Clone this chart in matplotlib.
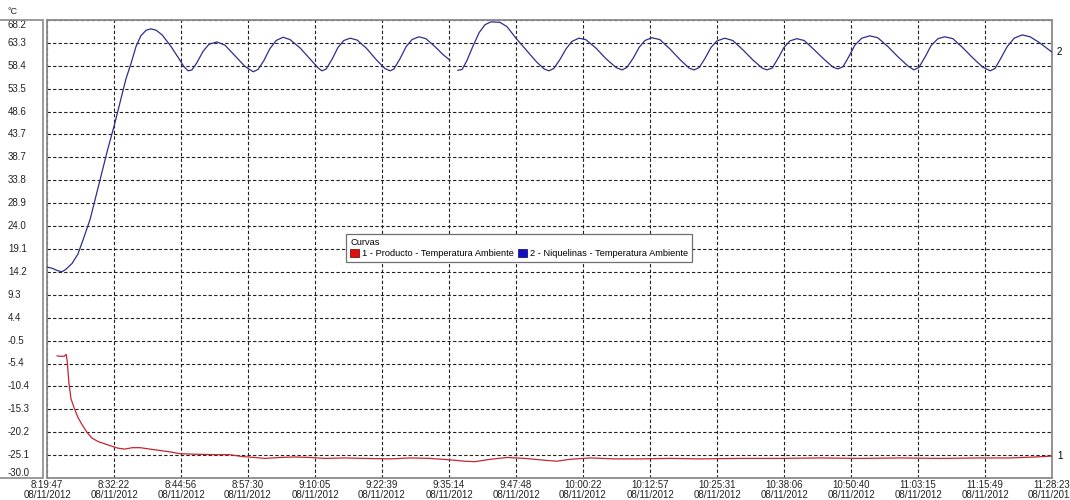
import numpy as np
import matplotlib
matplotlib.use("Agg")
import matplotlib.pyplot as plt
from matplotlib.patches import Patch, Rectangle
from matplotlib.transforms import blended_transform_factory

plt.rcParams["font.family"] = ["Liberation Sans", "DejaVu Sans"]

# --- data -------------------------------------------------------------
date_label = "08/11/2012"
x_tick_times = ["8:19:47", "8:32:22", "8:44:56", "8:57:30", "9:10:05",
                "9:22:39", "9:35:14", "9:47:48", "10:00:22", "10:12:57",
                "10:25:31", "10:38:06", "10:50:40", "11:03:15", "11:15:49",
                "11:28:23"]
y_tick_labels = ["-30.0", "-25.1", "-20.2", "-15.3", "-10.4", "-5.4", "-0.5",
                 "4.4", "9.3", "14.2", "19.1", "24.0", "28.9", "33.8", "38.7",
                 "43.7", "48.6", "53.5", "58.4", "63.3", "68.2"]

# minutes elapsed since 8:19:47
niquelinas_min = [0.0, 0.9, 1.9, 2.8, 3.6, 4.7, 5.8, 6.9, 8.1, 9.2, 10.3, 11.4,
                  12.6, 13.7, 14.8, 15.8, 16.7, 17.6, 18.6, 19.5, 20.5, 21.6,
                  23.1, 24.6, 25.7, 26.5, 27.2, 28.1, 29.3, 30.4, 31.9, 33.4,
                  35.3, 37.2, 38.7, 39.6, 40.7, 41.8, 43.0, 44.3, 45.6, 47.5,
                  49.4, 50.9, 51.6, 52.4, 53.5, 54.6, 55.7, 56.9, 58.2, 59.9,
                  61.7, 63.4, 64.4, 65.1, 66.2, 67.4, 68.5, 69.8, 71.1, 72.8,
                  74.3, 75.6, 76.4, 77.1, 77.9, 78.8, 79.9, 81.1, 82.2, 83.3,
                  85.0, 86.3, 88.0, 89.9, 91.8, 93.3, 94.2, 95.1, 96.3, 97.4,
                  98.5, 99.8, 101.1, 103.0, 104.9, 106.8, 107.9, 108.8, 110.0,
                  111.1, 112.2, 113.5, 115.0, 116.9, 118.8, 120.5, 121.4, 122.4,
                  123.5, 124.6, 125.7, 127.2, 128.7, 130.6, 132.5, 134.2, 135.1,
                  136.1, 137.2, 138.3, 139.4, 140.7, 142.1, 143.9, 145.8, 147.5,
                  148.4, 149.4, 150.5, 151.6, 152.9, 154.4, 155.9, 157.8, 159.7,
                  161.6, 162.7, 163.6, 164.8, 165.9, 167.2, 168.5, 170.0, 171.9,
                  173.8, 175.6, 177.0, 177.9, 179.0, 180.2, 181.5, 183.0, 184.5,
                  186.3, 188.6]
niquelinas_c = [15.2, 15.0, 14.5, 14.2, 14.8, 16.0, 18.0, 21.5, 25.5, 30.5,
                35.5, 40.5, 45.5, 50.5, 55.5, 59.0, 62.5, 64.8, 66.0, 66.3,
                66.0, 65.0, 62.8, 60.2, 58.2, 57.3, 57.5, 59.0, 61.5, 63.0,
                63.5, 62.8, 60.5, 58.2, 57.1, 57.6, 59.5, 62.0, 63.8, 64.5,
                64.0, 62.2, 59.8, 57.9, 57.3, 57.7, 59.8, 62.3, 63.8, 64.3,
                63.9, 62.2, 59.8, 57.8, 57.3, 57.7, 59.8, 62.5, 64.0, 64.6,
                64.2, 62.5, 60.8, 59.6, np.nan, 57.4, 57.6, 59.5, 62.5, 65.5,
                67.2, 67.8, 67.7, 66.8, 64.3, 61.8, 59.3, 57.7, 57.3, 57.8,
                59.8, 62.0, 63.6, 64.3, 64.0, 62.2, 59.9, 58.0, 57.5, 58.0,
                60.0, 62.3, 63.8, 64.4, 64.0, 62.0, 59.7, 57.9, 57.5, 58.0,
                60.0, 62.3, 63.7, 64.3, 63.8, 61.8, 59.6, 57.9, 57.5, 57.9,
                60.0, 62.3, 63.7, 64.2, 63.8, 61.9, 59.8, 58.1, 57.7, 58.2,
                60.4, 62.8, 64.3, 64.8, 64.4, 62.5, 60.3, 58.3, 57.5, 58.0,
                60.3, 62.7, 64.2, 64.6, 64.2, 62.2, 60.0, 58.1, 57.3, 57.8,
                60.0, 62.5, 64.3, 65.0, 64.6, 63.3, 61.3]

producto_min = [1.9, 2.4, 3.2, 3.6, 3.8, 4.1, 4.5, 5.1, 5.8, 6.6, 7.5, 8.4,
                9.6, 10.9, 12.2, 13.3, 14.6, 16.0, 17.5, 19.3, 21.2, 23.1,
                25.0, 27.8, 31.5, 34.3, 36.6, 39.0, 40.9, 43.7, 46.5, 49.4,
                52.2, 55.9, 59.7, 64.4, 68.1, 71.9, 75.6, 78.4, 80.3, 83.1,
                86.3, 89.7, 93.5, 95.7, 98.1, 101.9, 106.6, 111.3, 116.9,
                122.5, 130.0, 137.6, 145.1, 152.6, 160.1, 167.6, 175.1, 180.7,
                185.4, 188.6]
producto_c = [-3.8, -3.9, -3.9, -3.5, -5.0, -9.5, -13.0, -15.0, -17.0, -18.6,
              -20.2, -21.4, -22.2, -22.7, -23.2, -23.6, -23.8, -23.5, -23.5,
              -23.8, -24.1, -24.4, -24.8, -24.9, -25.0, -25.0, -25.4, -25.6,
              -25.8, -25.6, -25.5, -25.6, -25.8, -25.7, -25.8, -25.9, -25.7,
              -25.8, -26.1, -26.4, -26.5, -26.0, -25.6, -25.8, -26.2, -26.4,
              -26.0, -25.7, -25.9, -25.9, -25.8, -25.9, -25.8, -25.8, -25.7,
              -25.8, -25.7, -25.8, -25.7, -25.7, -25.5, -25.3]

series_names = ["1 - Producto - Temperatura Ambiente",
                "2 - Niquelinas - Temperatura Ambiente"]


def hms_to_min(s):
    h, m, sec = (int(v) for v in s.split(":"))
    return h * 60 + m + sec / 60.0


t0 = hms_to_min(x_tick_times[0])
x_ticks = [hms_to_min(s) - t0 for s in x_tick_times]

# --- figure -------------------------------------------------------------
W, H = 1070, 500
fig = plt.figure(figsize=(W / 100, H / 100), dpi=100)
ax = fig.add_axes([47 / W, 1 - 478 / H, (1052 - 47) / W, (478 - 20) / H])

ymin, ymax = -30.0, 68.2
ax.set_xlim(x_ticks[0], x_ticks[-1])
ax.set_ylim(ymin, ymax)

y_ticks = np.linspace(ymin, ymax, len(y_tick_labels))
ax.set_xticks(x_ticks)
ax.set_yticks(y_ticks)
ax.set_xticklabels([f"{t}\n{date_label}" for t in x_tick_times],
                   fontsize=7, linespacing=1.05)
ax.set_yticklabels([])
ax.tick_params(axis="both", length=0)
ax.tick_params(axis="x", colors="#222222", pad=1.5)

ax.grid(True, color="#202020", linestyle=(0, (3, 2)), linewidth=0.8)
for sp in ax.spines.values():
    sp.set_color("#8a8a8a")
    sp.set_linewidth(1.3)

red = "#c4262e"
blue = "#2e2e8c"
ax.plot(producto_min, producto_c, color=red, lw=0.9, zorder=3)
ax.plot(niquelinas_min, niquelinas_c, color=blue, lw=0.9, zorder=3)

# y labels inside the left panel
tr = blended_transform_factory(fig.transFigure, ax.transData)
for i, (yv, lab) in enumerate(zip(y_ticks, y_tick_labels)):
    va = "center"
    if i == 0:
        va = "bottom"
    elif i == len(y_ticks) - 1:
        va = "top"
    ax.text(8 / W, yv, lab, transform=tr, ha="left", va=va, fontsize=7,
            color="#222222", clip_on=False)
fig.patches.append(Rectangle((-2 / W, 1 - 478 / H), 45 / W, 458 / H,
                             transform=fig.transFigure, fill=False,
                             edgecolor="#8a8a8a", linewidth=1.2))
fig.text(8 / W, 1 - 12 / H, "\u00b0C", fontsize=6.5, ha="left", va="center",
         color="#222222")

# series end markers on the right
tr_r = blended_transform_factory(ax.transAxes, ax.transData)
ax.text(1.005, producto_c[-1], "1", transform=tr_r, fontsize=7,
        ha="left", va="center", clip_on=False)
ax.text(1.005, niquelinas_c[-1], "2", transform=tr_r, fontsize=7,
        ha="left", va="center", clip_on=False)

handles = [Patch(facecolor="#e01010", edgecolor="#600000", linewidth=0.5),
           Patch(facecolor="#1010c8", edgecolor="#000060", linewidth=0.5)]
leg = fig.legend(handles, series_names, title="Curvas", ncol=2,
                 loc="upper left", bbox_to_anchor=(346 / W, 1 - 234 / H),
                 borderaxespad=0,
                 fontsize=6.7, title_fontsize=6.7, alignment="left",
                 handlelength=0.9, handleheight=0.9, handletextpad=0.35,
                 columnspacing=0.5, borderpad=0.45, labelspacing=0.2,
                 fancybox=False, framealpha=1, edgecolor="#707070")
leg.get_frame().set_linewidth(0.9)

fig.savefig("out.png", dpi=100)
